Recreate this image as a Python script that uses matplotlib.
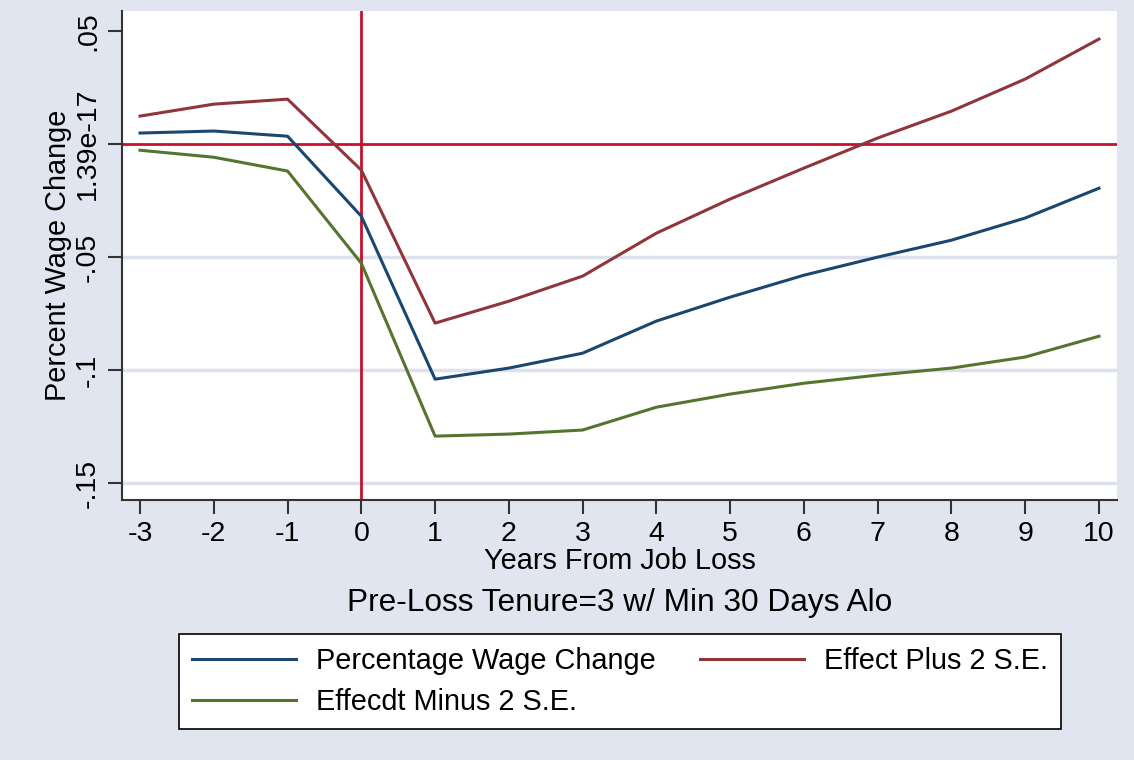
import matplotlib
matplotlib.use('Agg')
import matplotlib.pyplot as plt

# Data
years = [-3, -2, -1, 0, 1, 2, 3, 4, 5, 6, 7, 8, 9, 10]
wage_change = [0.0049, 0.0058, 0.0035, -0.0319, -0.1040, -0.0991, -0.0925, -0.0783,
               -0.0677, -0.0580, -0.0500, -0.0425, -0.0327, -0.0195]
plus_2se = [0.0124, 0.0177, 0.0199, -0.0115, -0.0792, -0.0695, -0.0584, -0.0394,
            -0.0243, -0.0106, 0.0027, 0.0146, 0.0288, 0.0465]
minus_2se = [-0.0027, -0.0058, -0.0119, -0.0527, -0.1292, -0.1283, -0.1265, -0.1164,
             -0.1106, -0.1058, -0.1022, -0.0991, -0.0942, -0.0850]
ytick_vals = [0.05, 0.0, -0.05, -0.1, -0.15]
ytick_labels = ['.05', '1.39e-17', '-.05', '-.1', '-.15']

plt.rcParams['font.family'] = ['Liberation Sans', 'DejaVu Sans']

bg = '#E1E5EF'
fig = plt.figure(figsize=(11.34, 7.6), dpi=100, facecolor=bg)
ax = fig.add_axes([0.1076, 0.342, 0.8774, 0.6435])
ax.set_facecolor('white')

# grid lines
for v in [-0.05, -0.1, -0.15]:
    ax.axhline(v, color='#DCE1EC', lw=2.5, zorder=1)

l1, = ax.plot(years, wage_change, color='#1A476F', lw=2.2, zorder=3, label='Percentage Wage Change')
l2, = ax.plot(years, plus_2se, color='#90353B', lw=2.2, zorder=3, label='Effect Plus 2 S.E.')
l3, = ax.plot(years, minus_2se, color='#55752F', lw=2.2, zorder=3, label='Effecdt Minus 2 S.E.')

# reference lines
ax.axhline(0, color='#C8102E', lw=2, zorder=2)
ax.axvline(0, color='#C8102E', lw=2, zorder=2)

ax.set_xlim(-3.244, 10.244)
ax.set_ylim(-0.1575, 0.0589)
ax.set_xticks(years)
ax.set_xticklabels([str(y) for y in years], fontsize=20.5)
ax.set_yticks(ytick_vals)
ax.set_yticklabels(ytick_labels, fontsize=20.5, rotation=90, va='center')

for side in ['top', 'right']:
    ax.spines[side].set_visible(False)
for side in ['left', 'bottom']:
    ax.spines[side].set_color('#333333')
    ax.spines[side].set_linewidth(1.5)
ax.tick_params(direction='out', length=10, width=1.5, color='#333333', pad=5)

ax.set_xlabel('Years From Job Loss', fontsize=20.8, labelpad=0)
ax.set_ylabel('Percent Wage Change', fontsize=20.8, labelpad=2)

fig.text(620 / 1134, 1 - 603 / 760, 'Pre-Loss Tenure=3 w/ Min 30 Days Alo',
         ha='center', va='center', fontsize=22.8)

leg = fig.legend([l1, l3, l2], [l1.get_label(), l3.get_label(), l2.get_label()],
                 ncol=2, loc='center', bbox_to_anchor=(620 / 1134, 1 - 681.5 / 760),
                 fontsize=20.8, frameon=True, fancybox=False, edgecolor='black',
                 framealpha=1, facecolor='white',
                 handlelength=3.6, columnspacing=1.5, handletextpad=0.7,
                 labelspacing=0.45, borderpad=0.45)
leg.get_frame().set_linewidth(1.2)

fig.savefig('out.png', dpi=100, facecolor=bg)
